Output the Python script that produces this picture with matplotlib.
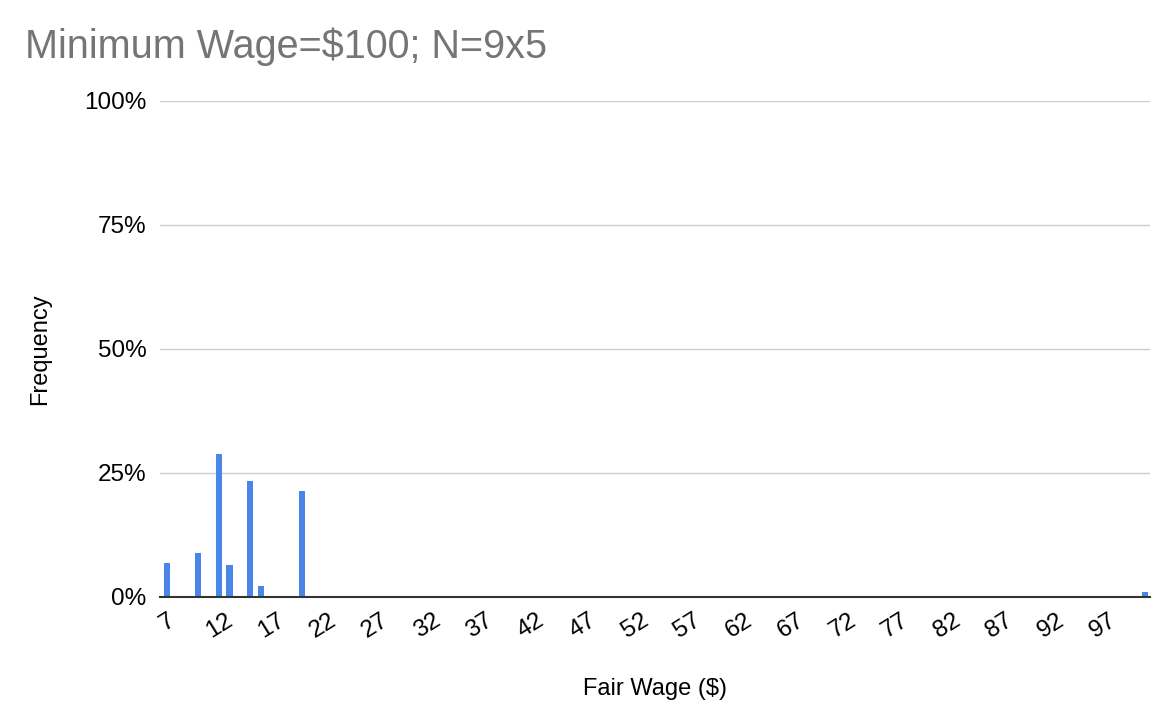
import matplotlib
matplotlib.use("Agg")
import matplotlib.pyplot as plt
from matplotlib.ticker import PercentFormatter

plt.rcParams["font.family"] = ["Liberation Sans", "DejaVu Sans"]

# fair wage ($) and share of outcomes (%)
wages = [7, 10, 12, 13, 15, 16, 20, 101]
freq = [6.8, 8.9, 28.7, 6.4, 23.4, 2.1, 21.4, 0.9]
xticks = list(range(7, 98, 5))
yticks = [0, 25, 50, 75, 100]

BLUE, GRID, TITLE = "#4a86e8", "#cccccc", "#757575"

fig = plt.figure(figsize=(11.7, 7.14), dpi=100)
ax = fig.add_axes([0.137, 0.164, 0.846, 0.695])

ax.bar(wages, freq, width=0.6, color=BLUE, zorder=3)
ax.set_xlim(6.35, 101.5)
ax.set_ylim(0, 100)

ax.set_yticks(yticks)
ax.yaxis.set_major_formatter(PercentFormatter(decimals=0))
ax.set_xticks(xticks)
ax.set_xticklabels([str(t) for t in xticks], rotation=32, ha="center")
ax.tick_params(axis="both", length=0, labelsize=17.5, colors="black")
ax.tick_params(axis="y", pad=10)
ax.tick_params(axis="x", pad=9)

ax.grid(axis="y", color=GRID, linewidth=1, zorder=0)
ax.grid(axis="x", visible=False)
for s in ["top", "right", "left"]:
    ax.spines[s].set_visible(False)
ax.spines["bottom"].set_color("#333333")
ax.spines["bottom"].set_linewidth(1.5)
ax.spines["bottom"].set_zorder(4)

ax.set_xlabel("Fair Wage ($)", fontsize=17, labelpad=26)
ax.set_ylabel("Frequency", fontsize=17, labelpad=24)

fig.text(0.021, 0.935, "Minimum Wage=$100; N=9x5", fontsize=28.5,
         color=TITLE, ha="left", va="center")

fig.savefig("out.png", dpi=100)
